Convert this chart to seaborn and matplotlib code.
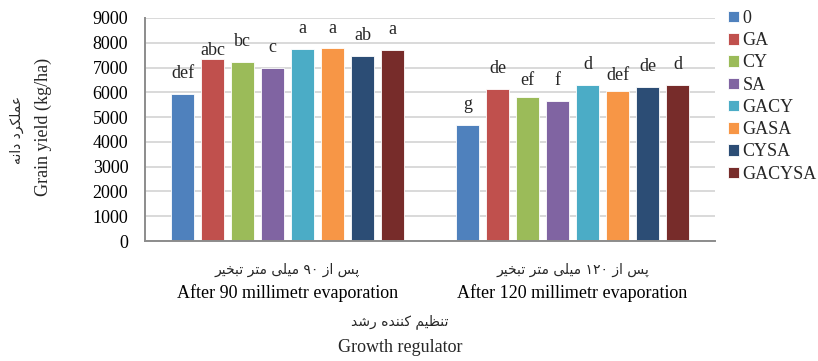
import re
import numpy as np
import pandas as pd
import matplotlib
matplotlib.use("Agg")
import matplotlib.pyplot as plt
import matplotlib.transforms as mtransforms
import seaborn as sns

# ---- data ---------------------------------------------------------------
treatments = ["0", "GA", "CY", "SA", "GACY", "GASA", "CYSA", "GACYSA"]
stages_en = ["After 90 millimetr evaporation", "After 120 millimetr evaporation"]
stages_fa = ["پس از ۹۰ میلی متر تبخیر", "پس از ۱۲۰ میلی متر تبخیر"]
yield_90 = [5950, 7330, 7240, 7000, 7740, 7770, 7480, 7710]
yield_120 = [4700, 6150, 5810, 5640, 6300, 6060, 6220, 6310]
letters_90 = ["def", "abc", "bc", "c", "a", "a", "ab", "a"]
letters_120 = ["g", "de", "ef", "f", "d", "def", "de", "d"]
ylabel_en = "Grain yield (kg/ha)"
ylabel_fa = "عملکرد دانه"
xlabel_en = "Growth regulator"
xlabel_fa = "تنظیم کننده رشد"

palette = ["#4F81BD", "#C0504D", "#9BBB59", "#8064A2",
           "#4BACC6", "#F79646", "#2C4D75", "#772C2A"]

# ---- Persian shaping (contextual forms + visual order) -------------------
FORMS = {
    "ا": ("\uFE8D", "\uFE8E", None, None),
    "ب": ("\uFE8F", "\uFE90", "\uFE91", "\uFE92"),
    "پ": ("\uFB56", "\uFB57", "\uFB58", "\uFB59"),
    "ت": ("\uFE95", "\uFE96", "\uFE97", "\uFE98"),
    "خ": ("\uFEA5", "\uFEA6", "\uFEA7", "\uFEA8"),
    "د": ("\uFEA9", "\uFEAA", None, None),
    "ر": ("\uFEAD", "\uFEAE", None, None),
    "ز": ("\uFEAF", "\uFEB0", None, None),
    "س": ("\uFEB1", "\uFEB2", "\uFEB3", "\uFEB4"),
    "ش": ("\uFEB5", "\uFEB6", "\uFEB7", "\uFEB8"),
    "ظ": ("\uFEC5", "\uFEC6", "\uFEC7", "\uFEC8"),
    "ع": ("\uFEC9", "\uFECA", "\uFECB", "\uFECC"),
    "ک": ("\uFB8E", "\uFB8F", "\uFB90", "\uFB91"),
    "ل": ("\uFEDD", "\uFEDE", "\uFEDF", "\uFEE0"),
    "م": ("\uFEE1", "\uFEE2", "\uFEE3", "\uFEE4"),
    "ن": ("\uFEE5", "\uFEE6", "\uFEE7", "\uFEE8"),
    "ه": ("\uFEE9", "\uFEEA", "\uFEEB", "\uFEEC"),
    "ی": ("\uFBFC", "\uFBFD", "\uFBFE", "\uFBFF"),
}


def fa(text):
    out = []
    for i, ch in enumerate(text):
        if ch not in FORMS:
            out.append(ch)
            continue
        iso, fin, ini, med = FORMS[ch]
        prev = text[i - 1] if i > 0 else ""
        nxt = text[i + 1] if i + 1 < len(text) else ""
        join_prev = prev in FORMS and FORMS[prev][2] is not None
        join_next = nxt in FORMS and ini is not None
        if join_prev and join_next:
            out.append(med)
        elif join_prev:
            out.append(fin)
        elif join_next:
            out.append(ini)
        else:
            out.append(iso)
    s = "".join(out)
    runs = re.findall(r"[0-9\u06F0-\u06F9]+|[^0-9\u06F0-\u06F9]+", s)
    return "".join(r if r[0].isdigit() else r[::-1] for r in reversed(runs))


# ---- table for seaborn ----------------------------------------------------
df = pd.DataFrame({
    "stage": [stages_en[0]] * len(treatments) + [stages_en[1]] * len(treatments),
    "treatment": treatments * 2,
    "grain_yield": yield_90 + yield_120,
    "letter": letters_90 + letters_120,
})

sns.set_style("white")
plt.rcParams["font.family"] = ["Liberation Serif", "DejaVu Sans"]
FS = 13
FA_FONT = ["DejaVu Sans"]

W, H = 818, 361
fig = plt.figure(figsize=(W / 100, H / 100), dpi=100)
ax = fig.add_axes([145 / W, 1 - 241 / H, 570 / W, 223 / H])

sns.barplot(data=df, x="stage", y="grain_yield", hue="treatment",
            hue_order=treatments, palette=palette, order=stages_en,
            width=0.842, gap=0.22, errorbar=None, saturation=1,
            edgecolor="white", linewidth=0.6, ax=ax)

ax.set_xlim(-0.5, 1.5)
ax.set_ylim(0, 9000)
ax.set_yticks(np.arange(0, 9001, 1000))
ax.yaxis.grid(True, color="#d9d9d9", linewidth=1.4)
ax.set_axisbelow(True)
for side in ("top", "right"):
    ax.spines[side].set_visible(False)
for side in ("left", "bottom"):
    ax.spines[side].set_color("#8c8c8c")
    ax.spines[side].set_linewidth(1.4)
ax.tick_params(axis="y", length=0, pad=12, labelsize=FS, colors="black")
ax.tick_params(axis="x", length=0, pad=31, labelsize=FS, colors="black")
ax.set_xlabel("")
ax.set_ylabel("")

# significance letters above each bar
letter_lookup = {(s, t): l for s, t, l in zip(df["stage"], df["treatment"], df["letter"])}
nudge = {(stages_en[0], "GA"): -8, (stages_en[1], "CY"): -3, (stages_en[1], "GASA"): -4}
for container, trt in zip(ax.containers, treatments):
    for bar, stage in zip(container, stages_en):
        h = bar.get_height()
        lab = letter_lookup[(stage, trt)]
        ax.annotate(lab, (bar.get_x() + bar.get_width() / 2, h),
                    xytext=(0, 11.5 + nudge.get((stage, trt), 0)),
                    textcoords="offset points", ha="center", va="baseline",
                    fontsize=FS)

# Persian category names above the English tick labels
blend = mtransforms.blended_transform_factory(ax.transData, fig.transFigure)
for i, name in enumerate(stages_fa):
    ax.text(i, 1 - 270 / H, fa(name), transform=blend, ha="center",
            va="center", fontsize=10, family=FA_FONT)

# axis titles (Persian + English)
fig.text(400 / W, 1 - 322 / H, fa(xlabel_fa), ha="center", va="center",
         fontsize=10, family=FA_FONT)
fig.text(400 / W, 1 - 348 / H, xlabel_en, ha="center", va="center", fontsize=FS)
fig.text(17 / W, 1 - 130 / H, fa(ylabel_fa), ha="center", va="center",
         rotation=90, fontsize=10, family=FA_FONT)
fig.text(43 / W, 1 - 127 / H, ylabel_en, ha="center", va="center",
         rotation=90, fontsize=FS)

# legend on the right
handles, labels = ax.get_legend_handles_labels()
ax.legend(handles, labels, loc="upper left",
          bbox_to_anchor=(728 / W, 1 - 10 / H), bbox_transform=fig.transFigure,
          frameon=False, fontsize=FS, handlelength=0.6, handleheight=0.6,
          handletextpad=0.2, labelspacing=0.29, borderpad=0, borderaxespad=0)

fig.savefig("out.png", dpi=100)
